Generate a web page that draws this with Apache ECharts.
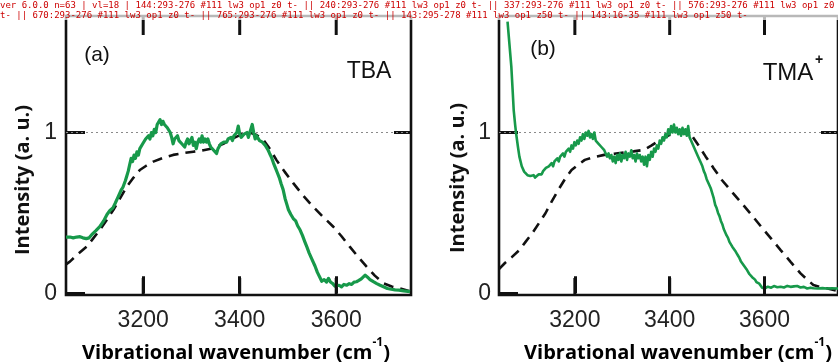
<!DOCTYPE html>
<html><head><meta charset="utf-8">
<script src="https://cdn.jsdelivr.net/npm/echarts@6/dist/echarts.min.js"></script>
<style>html,body{margin:0;padding:0;background:#fff}#c{width:838px;height:362px}
#dbg{position:absolute;left:0;top:0;width:838px;font:9px/10px monospace;color:#c00;white-space:normal;pointer-events:none;z-index:10;background:rgba(255,255,255,0.7)}</style>
</head><body><div id="c"></div><div id="dbg"></div>
<script>
const dbgMsgs = [];
window.onerror = function (m) { dbgMsgs.push('ERR:' + m); };
// ---- data ----
const xTicks = [3200, 3400, 3600];
const yTicks = [0, 1];
const panelLabels = ['(a)', '(b)'];
const panelNames = ['TBA', 'TMA'];

const tbaMeasured = [
[3040,0.35],[3048,0.35],[3055,0.345],[3062,0.35],[3069,0.352],[3075,0.345],[3082,0.34],[3088,0.345],[3095,0.37],[3102,0.39],
[3110,0.415],[3118,0.45],[3125,0.49],[3131,0.515],[3137,0.53],[3142,0.56],[3148,0.60],[3154,0.64],[3158,0.66],[3163,0.70],
[3166,0.73],[3169,0.76],[3172,0.80],[3175,0.84],[3178,0.82],[3181,0.86],[3184,0.84],[3187,0.88],[3190,0.86],[3193,0.90],
[3196,0.89],[3199,0.93],[3202,0.92],[3205,0.96],[3208,0.95],[3211,0.98],[3214,0.96],[3217,1.0],[3220,0.98],[3223,1.02],
[3226,1.0],[3229,1.05],[3232,1.04],[3235,1.08],[3238,1.05],[3241,1.07],[3244,1.05],[3247,1.06],[3250,1.03],[3253,1.04],
[3256,1.0],[3259,0.97],[3262,0.93],[3265,0.96],[3268,0.95],[3271,0.98],[3274,0.95],[3277,0.96],[3280,0.93],[3283,0.94],
[3286,0.91],[3289,0.94],[3292,0.96],[3295,0.93],[3298,0.95],[3301,0.97],[3304,0.92],[3307,0.94],[3310,0.90],[3313,0.94],
[3316,0.96],[3319,0.94],[3322,0.98],[3325,0.94],[3328,0.96],[3331,0.94],[3334,0.96],[3337,0.93],[3340,0.91],[3343,0.92],
[3346,0.89],[3349,0.90],[3352,0.87],[3355,0.90],[3358,0.91],[3361,0.93],[3364,0.92],[3367,0.94],[3370,0.95],[3373,0.94],
[3376,0.96],[3379,0.95],[3382,0.97],[3385,0.95],[3388,0.98],[3391,0.97],[3394,1.0],[3397,1.04],[3400,0.99],[3403,0.97],
[3406,0.96],[3409,0.99],[3412,0.98],[3415,1.0],[3418,0.97],[3421,1.0],[3424,1.03],[3426,1.05],[3429,1.0],[3432,0.96],
[3435,0.98],[3438,0.97],[3441,0.95],[3444,0.96],[3447,0.94],[3450,0.94],[3453,0.92],[3456,0.91],[3459,0.89],[3462,0.87],
[3466,0.845],[3470,0.81],[3474,0.78],[3478,0.75],[3482,0.72],[3486,0.68],[3490,0.645],[3494,0.59],[3498,0.55],[3501,0.52],
[3506,0.49],[3511,0.465],[3516,0.45],[3520,0.42],[3525,0.395],[3530,0.36],[3535,0.32],[3539,0.29],[3544,0.25],[3550,0.21],
[3556,0.17],[3561,0.13],[3566,0.10],[3570,0.075],[3575,0.085],[3580,0.07],[3584,0.093],[3588,0.07],[3593,0.06],[3597,0.045],
[3601,0.035],[3606,0.05],[3611,0.04],[3616,0.055],[3622,0.05],[3627,0.06],[3632,0.055],[3637,0.07],[3642,0.072],[3647,0.08],
[3652,0.09],[3656,0.10],[3660,0.113],[3665,0.10],[3670,0.085],[3677,0.072],[3684,0.06],[3691,0.05],[3698,0.041],[3706,0.03],
[3714,0.025],[3722,0.021],[3730,0.02],[3740,0.015],[3753,0.01]
];
const tbaCalc = [
[3040,0.18],[3048,0.197],[3065,0.245],[3083,0.29],[3096,0.34],[3110,0.394],[3124,0.455],[3138,0.518],[3152,0.59],[3166,0.664],
[3180,0.72],[3193,0.767],[3207,0.795],[3221,0.819],[3241,0.842],[3262,0.861],[3283,0.872],[3304,0.881],[3325,0.89],[3345,0.902],
[3366,0.93],[3387,0.965],[3405,0.99],[3421,1.0],[3435,0.985],[3449,0.954],[3462,0.90],[3476,0.83],[3493,0.757],[3511,0.685],
[3531,0.61],[3552,0.539],[3573,0.475],[3594,0.414],[3611,0.355],[3628,0.29],[3646,0.225],[3663,0.166],[3680,0.11],[3698,0.062],
[3715,0.042],[3732,0.031],[3755,0.01]
];
const tmaMeasured = [
[3058,1.69],[3062,1.55],[3066,1.41],[3069,1.25],[3071,1.14],[3074,1.05],[3076,0.996],[3080,0.91],[3083,0.85],[3088,0.79],
[3093,0.757],[3100,0.735],[3106,0.73],[3110,0.72],[3113,0.735],[3116,0.72],[3120,0.73],[3124,0.74],[3127,0.73],[3130,0.74],
[3133,0.76],[3136,0.75],[3139,0.78],[3142,0.77],[3145,0.79],[3148,0.78],[3151,0.81],[3154,0.79],[3157,0.82],[3160,0.81],
[3163,0.84],[3166,0.82],[3169,0.85],[3172,0.84],[3175,0.87],[3178,0.85],[3181,0.88],[3184,0.87],[3187,0.90],[3190,0.88],
[3193,0.92],[3196,0.90],[3199,0.94],[3202,0.92],[3205,0.95],[3208,0.93],[3211,0.97],[3214,0.95],[3217,0.99],[3220,0.96],
[3223,1.0],[3226,0.98],[3229,1.01],[3232,0.97],[3235,0.99],[3238,0.96],[3241,1.0],[3244,0.95],[3247,0.96],[3250,0.93],
[3253,0.94],[3256,0.91],[3259,0.92],[3262,0.89],[3265,0.88],[3268,0.85],[3271,0.87],[3274,0.84],[3277,0.86],[3280,0.82],
[3283,0.85],[3286,0.81],[3289,0.86],[3292,0.83],[3295,0.87],[3298,0.82],[3301,0.86],[3304,0.84],[3307,0.88],[3310,0.83],
[3313,0.87],[3316,0.85],[3319,0.89],[3322,0.84],[3325,0.86],[3328,0.82],[3331,0.87],[3334,0.84],[3337,0.86],[3340,0.82],
[3343,0.85],[3346,0.80],[3349,0.85],[3352,0.79],[3355,0.86],[3358,0.83],[3361,0.88],[3364,0.85],[3367,0.90],[3370,0.88],
[3373,0.92],[3376,0.90],[3379,0.95],[3382,0.93],[3385,0.97],[3388,0.95],[3391,0.99],[3394,0.97],[3397,1.02],[3400,0.99],
[3403,1.04],[3406,1.0],[3409,1.05],[3412,1.0],[3415,1.03],[3418,0.99],[3421,1.02],[3424,0.98],[3427,1.03],[3430,0.99],
[3433,1.02],[3436,0.98],[3439,1.04],[3442,0.97],[3445,0.95],[3448,0.93],[3451,0.92],[3454,0.89],[3457,0.88],[3460,0.85],
[3463,0.84],[3466,0.81],[3469,0.79],[3472,0.76],[3475,0.74],[3478,0.71],[3481,0.70],[3484,0.67],[3487,0.65],[3490,0.62],
[3493,0.59],[3496,0.55],[3499,0.53],[3502,0.50],[3505,0.48],[3508,0.45],[3511,0.43],[3514,0.40],[3517,0.38],[3520,0.36],
[3523,0.345],[3526,0.32],[3529,0.31],[3532,0.29],[3535,0.28],[3538,0.265],[3541,0.25],[3544,0.235],[3547,0.22],[3550,0.20],
[3553,0.19],[3556,0.175],[3559,0.165],[3562,0.15],[3565,0.135],[3568,0.12],[3571,0.11],[3574,0.10],[3577,0.09],[3580,0.085],
[3583,0.07],[3586,0.075],[3589,0.06],[3592,0.05],[3595,0.035],[3598,0.045],[3601,0.03],[3604,0.04],[3607,0.041],[3614,0.035],
[3620,0.045],[3627,0.038],[3634,0.041],[3641,0.036],[3648,0.046],[3655,0.04],[3662,0.043],[3669,0.045],[3676,0.036],[3683,0.04],
[3690,0.03],[3697,0.035],[3703,0.031],[3712,0.03],[3722,0.032],[3732,0.03],[3742,0.031],[3755,0.03]
];
const tmaCalc = [
[3040,0.15],[3052,0.187],[3067,0.225],[3083,0.269],[3096,0.32],[3110,0.373],[3124,0.435],[3138,0.498],[3151,0.57],[3165,0.643],
[3179,0.71],[3193,0.767],[3207,0.80],[3221,0.83],[3241,0.848],[3262,0.861],[3283,0.868],[3303,0.875],[3324,0.883],[3345,0.892],
[3362,0.92],[3379,0.954],[3400,0.985],[3420,1.0],[3434,0.995],[3448,0.975],[3462,0.915],[3476,0.85],[3493,0.777],[3510,0.705],
[3531,0.632],[3552,0.56],[3573,0.487],[3593,0.414],[3614,0.34],[3634,0.269],[3655,0.196],[3676,0.124],[3690,0.085],[3703,0.052],
[3717,0.04],[3731,0.031],[3755,0.015]
];

// ---- chart ----
const X_MIN = 3040, X_MAX = 3755, Y_MIN = -0.0106, Y_MAX = 1.725;
const GREEN = '#17994a';
const tickFont = 'Liberation Sans, Arial, sans-serif';
const boldFont = 'Open Sans, sans-serif';
const GRID_H = 279;
const grids = [
  {left: 66, top: 16, width: 345, height: GRID_H},
  {left: 499, top: 16, width: 345, height: GRID_H}
];

const xAxes = [], yAxes = [];
grids.forEach((g, i) => {
  xAxes.push({
    type: 'value', gridIndex: i, min: X_MIN, max: X_MAX, position: 'bottom',
    axisLine: {show: false}, splitLine: {show: false},
    axisTick: {inside: true, length: 17, customValues: xTicks, lineStyle: {color: '#111', width: 3}},
    axisLabel: {customValues: xTicks, margin: 14, fontSize: 23, color: '#222', fontFamily: tickFont,
      formatter: v => String(v)}
  });
  yAxes.push({
    type: 'value', gridIndex: i, min: Y_MIN, max: Y_MAX, position: 'left',
    axisLine: {show: false}, splitLine: {show: false},
    axisTick: {inside: true, length: 19, customValues: yTicks, lineStyle: {color: '#111', width: 3}},
    axisLabel: {customValues: yTicks, margin: 9 - i, fontSize: 23, color: '#222', fontFamily: tickFont,
      formatter: v => String(v)}
  });
  yAxes.push({
    type: 'value', gridIndex: i, min: Y_MIN, max: Y_MAX, position: 'right',
    axisLine: {show: false}, splitLine: {show: false},
    axisTick: {inside: true, length: 17, customValues: [1], lineStyle: {color: '#111', width: 3}},
    axisLabel: {show: false}
  });
});

function panelSeries(i, measured, calc, w) {
  return [
    {type: 'line', xAxisIndex: i, yAxisIndex: 2 * i, data: [], z: 1, silent: true,
     markLine: {silent: true, symbol: ['none', 'none'], label: {show: false}, z: 1,
       lineStyle: {type: [2, 3], color: '#8a8a8a', width: 1.2}, data: [{yAxis: 1}]}},
    {type: 'line', xAxisIndex: i, yAxisIndex: 2 * i, data: calc, showSymbol: false, z: 3, silent: true,
     lineStyle: {color: '#111', width: 2.6, type: [10, 7]}},
    {type: 'line', xAxisIndex: i, yAxisIndex: 2 * i, data: measured, showSymbol: false, z: 4, silent: true,
     lineStyle: {color: GREEN, width: w, join: 'round'}}
  ];
}

const richTitle = {
  t: {fontFamily: boldFont, fontWeight: 'bold', fontSize: 20, color: '#111', lineHeight: 26, verticalAlign: 'bottom'},
  s: {fontFamily: boldFont, fontWeight: 'bold', fontSize: 12, color: '#111', lineHeight: 12, verticalAlign: 'top'}
};
function xTitleEl(cx) {
  return {type: 'text', x: cx, y: 350, style: {
    text: '{t|Vibrational wavenumber (cm}{s|-1}{t|)}', rich: richTitle,
    align: 'center', verticalAlign: 'middle'}};
}
function yTitleEl(cx, cy) {
  return {type: 'text', x: cx, y: cy, rotation: Math.PI / 2, style: {
    text: 'Intensity (a. u.)', fontFamily: boldFont, fontWeight: 'bold', fontSize: 20, fill: '#111',
    align: 'center', verticalAlign: 'middle'}};
}
function plainText(x, y, t, size, weight) {
  return {type: 'text', x: x, y: y, style: {text: t, fontFamily: tickFont, fontSize: size, fill: '#111',
    fontWeight: weight || 'normal', align: 'center', verticalAlign: 'middle'}};
}

const chart = echarts.init(document.getElementById('c'), null, {renderer: 'canvas'});
try {
  chart.setOption({
    animation: false,
    backgroundColor: '#fff',
    grid: grids.map(g => Object.assign({show: true, borderColor: '#111', borderWidth: 2.6, backgroundColor: 'transparent'}, g)),
    xAxis: xAxes,
    yAxis: yAxes,
    series: [].concat(panelSeries(0, tbaMeasured, tbaCalc, 3.2), panelSeries(1, tmaMeasured, tmaCalc, 2.6)),
    graphic: [
      xTitleEl(236), xTitleEl(678),
      yTitleEl(23, 180), yTitleEl(458, 178),
      plainText(97, 55, panelLabels[0], 21),
      plainText(543, 49, panelLabels[1], 21),
      plainText(369, 72, panelNames[0], 23),
      plainText(788, 73, panelNames[1], 24),
      plainText(819, 60, '+', 14, 'bold')
    ]
  });
} catch (e) { dbgMsgs.push('SETOPT:' + e.message); }

// extra x ticks as graphic lines, positioned with the library's own scales
try {
  const extra = [];
  grids.forEach((g, i) => {
    xTicks.forEach(v => {
      const pb = chart.convertToPixel({xAxisIndex: i, yAxisIndex: 2 * i}, [v, 0]);
      extra.push({type: 'line', z: 50, silent: true,
        shape: {x1: pb[0], y1: g.top + g.height, x2: pb[0], y2: g.top + g.height - 17},
        style: {stroke: '#111', lineWidth: 3}});
      extra.push({type: 'line', z: 50, silent: true,
        shape: {x1: pb[0], y1: g.top, x2: pb[0], y2: g.top + 19},
        style: {stroke: '#111', lineWidth: 3}});
    });
  });
  chart.setOption({graphic: extra.map((e, k) => Object.assign({id: 'tk' + k}, e))});
} catch (e) { dbgMsgs.push('EXTRA:' + e.message); }

setTimeout(function () {
  try {
    const list = chart.getZr().storage.getDisplayList(true);
    const v = [];
    list.forEach(el => {
      const s = el.shape;
      if (s && s.x1 != null && Math.abs(s.x1 - s.x2) < 0.6 && Math.abs(s.y1 - s.y2) < 40) {
        let clip = '';
        const cps = el.__clipPaths;
        if (cps && cps.length) clip = 'C' + cps.map(c => c.shape ? [c.shape.x, c.shape.y, c.shape.width, c.shape.height].map(n => Math.round(n)).join(',') : '?').join(';');
        const st = el.style || {};
        v.push(Math.round(s.x1) + ':' + Math.round(s.y1) + '-' + Math.round(s.y2) + ' ' + st.stroke + ' lw' + st.lineWidth +
          ' op' + st.opacity + (el.invisible ? ' INV' : '') + (el.ignore ? ' IGN' : '') + ' z' + el.z + ' ' + clip +
          ' t' + (el.transform ? el.transform.map(n => Math.round(n * 10) / 10).join(',') : '-'));
      }
    });
    document.getElementById('dbg').textContent = 'ver ' + echarts.version + ' n=' + list.length + ' ' + dbgMsgs.join(' ') +
      ' | vl=' + v.length + ' | ' + v.slice(0, 8).join(' || ');
  } catch (e) { document.getElementById('dbg').textContent = 'DBGERR ' + e.message; }
}, 50);
</script></body></html>
